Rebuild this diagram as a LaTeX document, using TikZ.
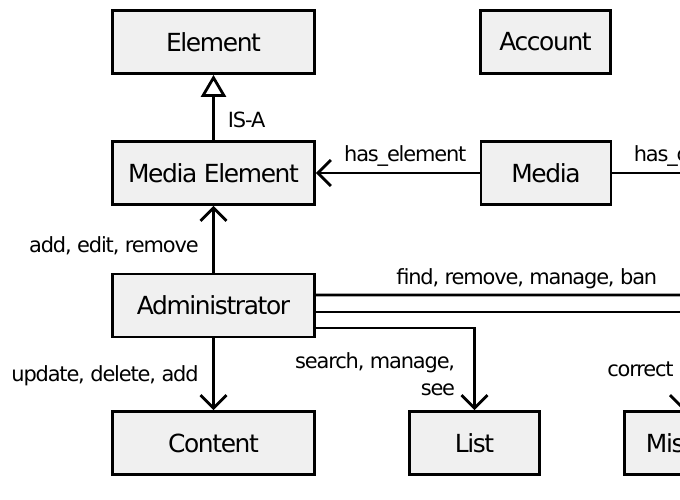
\documentclass[tikz,border=0pt]{standalone}
\usepackage{fontspec}
\setmainfont{DejaVu Sans}[LetterSpace=-5.5]
\usetikzlibrary{shapes,positioning,arrows,arrows.meta,calc}

\definecolor{boxgray}{HTML}{F0F0F0}
\tikzset{
    cls/.style={draw, line width=2.8bp, fill=boxgray, minimum width=202bp, minimum height=63bp,
        inner sep=0pt, font=\fontsize{25}{29}\selectfont},
    smallcls/.style={cls, minimum width=130bp},
    lbl/.style={inner sep=0pt, font=\fontsize{21}{27}\selectfont},
    plain/.style={line width=2.8bp},
    assoc/.style={line width=2.8bp, -{Straight Barb[length=13bp,width=26bp]}},
    isa/.style={line width=2.8bp, -{Triangle[length=22bp,width=25bp,fill=white]}},
}

\begin{document}
\begin{tikzpicture}[x=1bp, y=-1bp]
        \useasboundingbox (0,0) rectangle (680,500);
        \node[cls] (elem) at (213.5,42) {Element};
        \node[smallcls] (acc) at (545.5,42) {Account};
        \node[cls] (medel) at (213.5,173) {Media Element};
        \node[smallcls] (media) at (546,173) {Media};
        \node[cls] (adm) at (213.5,305.5) {Administrator};
        \node[cls] (cont) at (213.5,443) {Content};
        \node[smallcls] (list) at (474.5,443) {List};
        \node[smallcls] (mis) at (689.5,443) {Mistake};
        \coordinate (cmt) at (760,173);
        \coordinate (ban) at (760,295);
        \draw[isa] (medel) -- (elem) node[lbl, anchor=base west, pos=0.2, xshift=13bp] {IS-A};
        \draw[assoc] (media) -- (medel) node[lbl, anchor=base, pos=0.454, yshift=11bp] {has\_element};
        \draw[plain] (media) -- (cmt) node[lbl, anchor=base west, pos=0, xshift=20bp, yshift=11bp] {has\_comment};
        \draw[assoc] (adm) -- (medel) node[lbl, anchor=base east, pos=0.3, xshift=-13.5bp] {add, edit, remove};
        \draw[assoc] (adm) -- (cont) node[lbl, anchor=base east, pos=0.6, xshift=-13.5bp] {update, delete, add};
        \draw[plain] ([yshift=10.5bp]adm.east) -- (ban) node[lbl, anchor=base west, pos=0, xshift=79bp, yshift=11bp] {find, remove, manage, ban};
        \draw[assoc] ([yshift=-6.5bp]adm.east) -| ([xshift=-6.5bp]mis.north) node[lbl, anchor=base east, pos=0.827, xshift=-8bp] {correct};
        \draw[assoc] ([yshift=-22.5bp]adm.east) -| (list) node[lbl, anchor=east, align=right, pos=0.78, xshift=-18bp] {search, manage,\\see};
    \end{tikzpicture}
\end{document}
